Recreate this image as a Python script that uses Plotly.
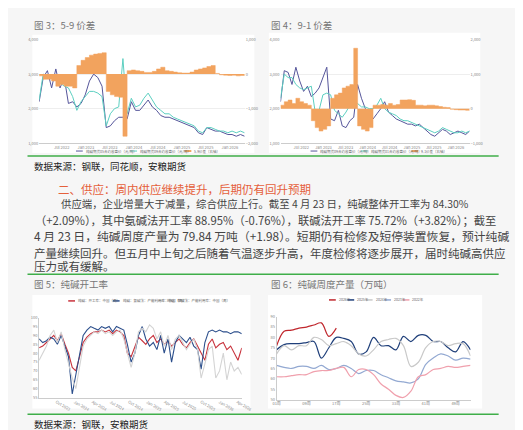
import plotly.graph_objects as go
import pandas as pd

W, H = 523, 430
# ---------------- data ----------------
dates34 = pd.date_range("2022-01-10", "2026-04-24", periods=50).strftime("%Y-%m-%d").tolist()

c3_blue = [2200,2900,3100,2600,3150,2600,2900,2150,2200,2050,2150,2400,2800,3000,2900,2650,1450,1500,1650,1750,
           1750,1700,2200,1950,1950,2100,2250,2050,1950,1800,1750,1750,1700,1650,1600,1550,1500,1450,1300,1250,
           1450,1400,1350,1350,1300,1250,1250,1200,1250,1200]
c3_teal = [2250,3000,2950,2900,2900,2750,2650,2600,2350,1950,2200,2350,2500,2500,2450,2350,1500,1850,2000,2050,
           3450,1850,2300,2050,2100,2300,2450,2250,2050,1950,1850,1850,1750,1700,1650,1600,1550,1500,1350,1300,
           1450,1450,1400,1350,1350,1300,1350,1300,1350,1300]
c3_spread = [-50,-150,-150,-200,-350,-300,-350,-350,-400,250,400,480,550,580,600,620,-500,-600,-650,-670,
             -1800,100,120,100,80,50,50,80,150,200,100,80,60,40,30,30,60,120,150,180,
             220,250,20,-20,-30,-40,-30,-50,-40,-30]

c4_blue = [2200,3100,3050,2700,3200,2800,2500,2650,2350,2450,2600,2900,3200,1700,1650,1950,1500,1450,1650,1750,
           2700,2300,2000,1900,1700,1850,2000,2200,1900,1800,1700,1650,1600,1550,1550,1500,1550,1450,1350,1250,
           1200,1300,1400,1350,1250,1300,1350,1300,1250,1350]
c4_teal = [2300,3000,2900,2900,2700,2600,2550,2600,2650,1900,1950,2400,2450,2400,1950,1850,1750,1900,2100,2200,
           2150,2050,2050,2000,2000,2100,2300,2000,1900,1850,1800,1700,1650,1650,1600,1550,1500,1450,1400,1350,
           1300,1350,1450,1400,1350,1300,1300,1350,1300,1350]
c4_spread = [100,200,250,150,300,200,150,100,-350,-550,-650,-600,-500,300,400,450,600,650,700,1750,
             -500,-600,-650,-550,100,100,120,100,150,100,120,250,250,260,240,100,100,80,100,100,
             80,60,40,30,-20,-30,-40,-40,-50,-30]

dates5 = pd.date_range("2023-07-07", "2026-04-24", periods=56).strftime("%Y-%m-%d").tolist()
c5_total = [83,84,86,88,90,87,91,85,80,72,70,78,86,89,91,92,92,93,92,93,91,93,92,90,80,78,84,89,87,85,
            88,90,86,88,85,87,84,86,88,85,83,86,88,84,80,76,85,88,83,85,86,82,84,80,76,83]
c5_ammonia = [88,86,87,89,88,85,90,84,78,57,68,80,90,93,95,94,93,95,94,95,92,95,94,93,85,75,80,90,95,88,
              84,86,82,90,80,88,75,86,90,88,86,89,84,82,71,86,92,93,92,93,92,92,91,92,92,91]
c5_joint = [76,80,84,90,93,86,92,82,74,66,60,72,84,88,90,92,91,93,91,92,90,92,93,88,80,72,80,92,94,92,
            96,94,88,92,84,90,82,88,90,86,82,85,88,82,66,74,82,84,66,70,80,65,75,70,72,68]

weeks6 = [f"{2*i+1:02d}周" for i in range(27)]
y2026 = [76,83,83.5,84.5,85,86,87,80.5,84.5]
y2025 = [74,76.5,77,77,77.5,78,70,75,80,79.5,78,72,73,80,76,76,74,80.5,78,81,81,78,78,75,73,78,74]
y2024 = [72,76,74,76,76,80,79,76,77,78,76,72,71,74,78,79,79.5,76,66,68,75,78,78,76,77,77,71]
y2023 = [66.5,65.5,65,66,66,65,66.5,64.5,65,66.5,65,62.5,64,64,62,60.5,59,58.5,58,60,67,70,72,71,69,70,69.5]
y2022 = [61,61,61.5,62,62,63.5,64,64,65,65.5,61,64.5,64.5,62,57.5,55,52,51,54,61,62,64.5,65,66,65.5,66,66.5]

# ---------------- helpers ----------------
def px_x(p): return p / W
def px_y(p): return 1 - p / H

CJK = "Noto Sans CJK SC"
ORANGE = "#f2a35e"
PURPLE = "#55559a"
TEAL = "#5ccfc0"

fig = go.Figure()

fig.add_trace(go.Scatter(x=dates34, y=c3_spread, mode="lines", fill="tozeroy", fillcolor=ORANGE,
                         line=dict(color=ORANGE, width=0.5, shape="hv"), xaxis="x", yaxis="y2", showlegend=False))
fig.add_trace(go.Scatter(x=dates34, y=c3_blue, mode="lines", line=dict(color=PURPLE, width=1),
                         xaxis="x", yaxis="y", showlegend=False))
fig.add_trace(go.Scatter(x=dates34, y=c3_teal, mode="lines", line=dict(color=TEAL, width=1),
                         xaxis="x", yaxis="y", showlegend=False))
fig.add_trace(go.Scatter(x=dates34, y=c4_spread, mode="lines", fill="tozeroy", fillcolor=ORANGE,
                         line=dict(color=ORANGE, width=0.5, shape="hv"), xaxis="x2", yaxis="y4", showlegend=False))
fig.add_trace(go.Scatter(x=dates34, y=c4_blue, mode="lines", line=dict(color=PURPLE, width=1),
                         xaxis="x2", yaxis="y3", showlegend=False))
fig.add_trace(go.Scatter(x=dates34, y=c4_teal, mode="lines", line=dict(color=TEAL, width=1),
                         xaxis="x2", yaxis="y3", showlegend=False))
c5_series = [(c5_total, "纯碱：开工率：中国（周）", "#c8323c"),
             (c5_ammonia, "纯碱：氨碱法：产能利用率：中国（周）", "#2c4f8c"),
             (c5_joint, "纯碱：联碱法：产能利用率：中国（周）", "#d4d4d4")]
for vals, nm, col in c5_series:
    fig.add_trace(go.Scatter(x=dates5, y=vals, mode="lines", line=dict(color=col, width=1.1),
                             xaxis="x3", yaxis="y5", showlegend=False))
c6_series = [(y2026, "2026年", "#c0272d"), (y2025, "2025年", "#1f3f7a"),
             (y2024, "2024年", "#c9c9c9"), (y2023, "2023年", "#93a9d2"),
             (y2022, "2022年", "#f0a0ad")]
for vals, nm, col in c6_series:
    fig.add_trace(go.Scatter(x=weeks6[:len(vals)], y=vals, mode="lines",
                             line=dict(color=col, width=1.2, shape="spline"),
                             xaxis="x4", yaxis="y6", showlegend=False))

tickf = dict(size=4, color="#888")
def xax(dom, anchor, **kw):
    d = dict(domain=dom, anchor=anchor, showgrid=False, showline=True, linecolor="#ccc", linewidth=0.6,
             tickfont=tickf, ticks="", zeroline=False)
    d.update(kw); return d
def yax(dom, anchor, rng, dtick, **kw):
    d = dict(domain=dom, anchor=anchor, range=rng, dtick=dtick, showgrid=True, gridcolor="#eeeeee",
             gridwidth=0.6, tickfont=tickf, zeroline=False, ticks="", tickformat=",")
    d.update(kw); return d

d3x = [px_x(28), px_x(240)]; d34y = [px_y(133), px_y(28)]
d4x = [px_x(277), px_x(472)]
d5x = [px_x(28), px_x(237)]; d5y = [px_y(391), px_y(310)]
d6x = [px_x(273), px_x(473)]; d6y = [px_y(393), px_y(309)]

fig.update_layout(
    width=W, height=H, margin=dict(l=0, r=0, t=0, b=0),
    paper_bgcolor="#f6f6f6", plot_bgcolor="rgba(0,0,0,0)",
    font=dict(family=CJK), showlegend=False,
    xaxis=xax(d3x, "y", nticks=12),
    yaxis=yax(d34y, "x", [1000, 4000], 1000),
    yaxis2=yax(d34y, "x", [-2000, 1000], 1000, overlaying="y", side="right", showgrid=False),
    xaxis2=xax(d4x, "y3", nticks=12),
    yaxis3=yax(d34y, "x2", [1000, 4000], 1000),
    yaxis4=yax(d34y, "x2", [-1000, 2000], 1000, overlaying="y3", side="right", showgrid=False),
    xaxis3=xax(d5x, "y5", nticks=12),
    yaxis5=yax(d5y, "x3", [55, 100], 5, showgrid=False, showline=True, linecolor="#ccc", linewidth=0.6),
    xaxis4=xax(d6x, "y6", tickangle=0, dtick=4),
    yaxis6=yax(d6y, "x4", [50, 90], 5, showgrid=False, showline=True, linecolor="#ccc", linewidth=0.6),
)

shapes = []
ann = []
for x0, x1, y0, y1 in [(21, 250, 23, 143), (265, 483, 21, 143), (21, 246, 287, 402), (264, 485, 287, 402)]:
    shapes.append(dict(type="rect", xref="paper", yref="paper", x0=px_x(x0), x1=px_x(x1), y0=px_y(y1), y1=px_y(y0),
                       fillcolor="white", line_width=0, layer="below"))
for yy in (146, 266, 408):
    shapes.append(dict(type="line", xref="paper", yref="paper", x0=px_x(16), x1=px_x(502), y0=px_y(yy), y1=px_y(yy),
                       line=dict(color="#3fae49", width=1.5)))

def txt(t, x, y, size, color, anchor="left"):
    ann.append(dict(text=t, x=px_x(x), y=px_y(y), xref="paper", yref="paper", showarrow=False,
                    xanchor=anchor, yanchor="middle", font=dict(size=size, color=color, family=CJK)))

def legend(items, x, y, gap):
    for nm, col, w in items:
        shapes.append(dict(type="line", xref="paper", yref="paper", x0=px_x(x), x1=px_x(x + 7),
                           y0=px_y(y), y1=px_y(y), line=dict(color=col, width=w)))
        txt(nm, x + 8, y, 3.5, "#666")
        x += gap

legend([("纯碱期货05合约收盘价（元/吨）", PURPLE, 1), ("纯碱期货09合约收盘价（元/吨）", TEAL, 1),
        ("5-9价差（右轴）", ORANGE, 2)], 66, 141, 56)
legend([("纯碱期货09合约收盘价（元/吨）", PURPLE, 1), ("纯碱期货01合约收盘价（元/吨）", TEAL, 1),
        ("9-1价差（右轴）", ORANGE, 2)], 308, 141, 52)
legend([(nm, col, 1.5) for _, nm, col in c5_series], 58, 293, 46)
legend([(nm, col, 1.5) for _, nm, col in c6_series], 327, 292, 19)

gray = "#777"
txt("图 3：5-9 价差", 21, 13, 9.5, gray)
txt("图 4：9-1 价差", 265, 13, 9.5, gray)
txt("数据来源：钢联，同花顺，安粮期货", 21, 156, 9.5, "#222")
txt("二、供应：周内供应继续提升，后期仍有回升预期", 45, 180, 11.5, "#e5603b")
body = "#444"
txt("供应端，企业增量大于减量，综合供应上行。截至 4 月 23 日，纯碱整体开工率为 84.30%", 48, 194, 10.4, body)
txt("（+2.09%），其中氨碱法开工率 88.95%（-0.76%），联碱法开工率 75.72%（+3.82%）；截至", 22, 211, 11.3, body)
txt("4 月 23 日，纯碱周度产量为 79.84 万吨（+1.98）。短期仍有检修及短停装置恢复，预计纯碱", 21, 227, 11.8, body)
txt("产量继续回升。但五月中上旬之后随着气温逐步升高，年度检修将逐步展开，届时纯碱高供应", 21, 244, 11.5, body)
txt("压力或有缓解。", 21, 258, 11.5, body)
txt("图 5：纯碱开工率", 21, 276, 9.5, gray)
txt("图 6：纯碱周度产量（万吨）", 265, 276, 9.5, gray)
txt("数据来源：钢联，安粮期货", 21, 418, 9.5, "#222")
fig.update_layout(shapes=shapes, annotations=ann)

fig.write_html("out.html")
